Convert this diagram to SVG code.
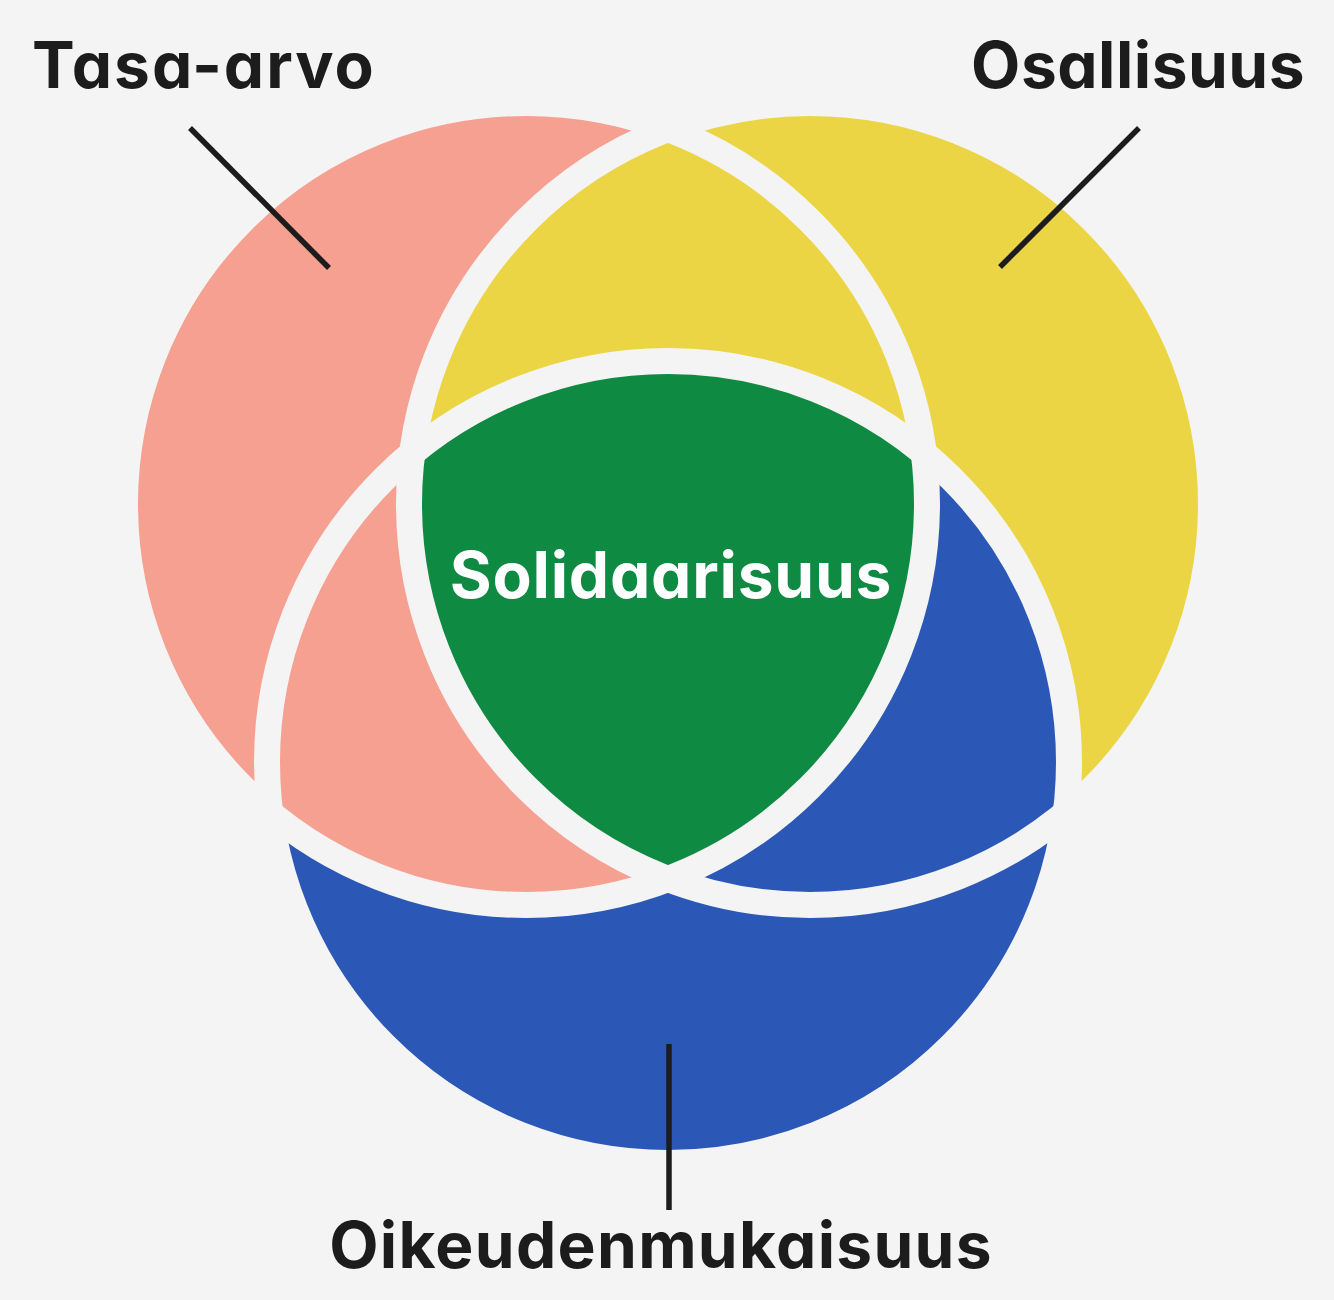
<svg xmlns="http://www.w3.org/2000/svg" width="1334" height="1300" viewBox="0 0 1334 1300">
  <style>
    .lbl { font-family: Inter, "Liberation Sans", sans-serif; font-weight: 700; fill: #1c1c1c; font-size: 64px; font-feature-settings: "cv11", "salt"; }
    .inner { fill: #ffffff; }
    .gap { fill: none; stroke: #f4f4f4; stroke-width: 26; }
    .lead { stroke: #1c1c1c; stroke-width: 5.5; fill: none; }
  </style>
  <defs>
    <circle id="cirP" cx="526" cy="504" r="401"/>
    <circle id="cirY" cx="810" cy="504" r="401"/>
    <circle id="cirB" cx="668" cy="762" r="401"/>
    <clipPath id="clipP"><use href="#cirP"/></clipPath>
    <clipPath id="clipY"><use href="#cirY"/></clipPath>
  </defs>
  <rect width="1334" height="1300" fill="#f4f4f4"/>

  <g id="venn">
    <g id="node-oikeudenmukaisuus-circle"><use href="#cirB" fill="#2b58b6"/></g>
    <g id="node-osallisuus-circle"><use href="#cirY" fill="#ebd545"/></g>
    <g id="node-tasa-arvo-circle"><use href="#cirP" fill="#f5a090"/></g>
    <use href="#cirY" fill="#ebd545" clip-path="url(#clipP)"/>
    <use href="#cirB" fill="#2b58b6" clip-path="url(#clipY)"/>
    <g id="node-solidaarisuus-region" clip-path="url(#clipP)">
      <use href="#cirB" fill="#0e8a42" clip-path="url(#clipY)"/>
    </g>
    <use href="#cirP" class="gap"/>
    <use href="#cirY" class="gap"/>
    <use href="#cirB" class="gap"/>
  </g>

  <g id="connectors">
    <line class="lead" x1="190" y1="128" x2="329" y2="268"/>
    <line class="lead" x1="1139" y1="128" x2="1000" y2="267"/>
    <line class="lead" x1="669" y1="1044" x2="669" y2="1210"/>
  </g>

  <g id="node-tasa-arvo"><text class="lbl" x="32" y="88" letter-spacing="2" style="font-feature-settings: 'cv11' 1">Tasa-arvo</text></g>
  <g id="node-osallisuus"><text class="lbl" x="1305" y="88" letter-spacing="0.5" text-anchor="end" style="font-feature-settings: 'cv11' 1">Osallisuus</text></g>
  <g id="node-oikeudenmukaisuus"><text class="lbl" x="661" y="1268" letter-spacing="1.3" text-anchor="middle" style="font-feature-settings: 'cv11' 1">Oikeudenmukaisuus</text></g>
  <g id="node-solidaarisuus"><text class="lbl inner" x="671" y="598" letter-spacing="0.8" text-anchor="middle" style="font-feature-settings: 'cv11' 1">Solidaarisuus</text></g>
</svg>
